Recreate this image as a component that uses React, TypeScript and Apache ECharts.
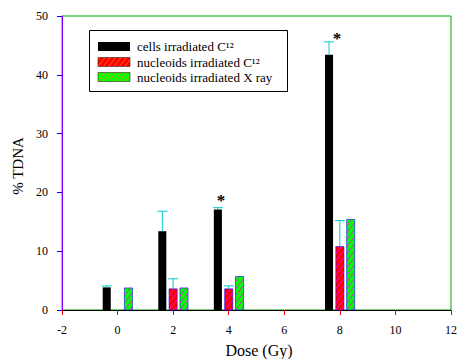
import React, { useEffect, useRef } from "react";
import * as echarts from "echarts";

const doses = [0, 2, 4, 8];
const cellsC12 = [3.85, 13.4, 17.1, 43.4];
const cellsC12Err = [0.25, 3.4, 0.3, 2.2];
const nucleoidsC12: (number | null)[] = [null, 3.6, 3.6, 10.8];
const nucleoidsC12Err: (number | null)[] = [null, 1.7, 0.5, 4.4];
const nucleoidsX = [3.75, 3.75, 5.7, 15.4];
const starPoints: [number, number][] = [
  [3.72, 18.6],
  [7.9, 46.1],
];
const xTicks = { min: -2, max: 12, interval: 2 };
const yTicks = { min: 0, max: 50, interval: 10 };
const legendNames = [
  "cells irradiated C¹²",
  "nucleoids irradiated C¹²",
  "nucleoids irradiated X ray",
];
const xTitle = "Dose (Gy)";
const yTitle = "% TDNA";

const FONT = "Liberation Serif";
const BAR_W = 0.29;
const OFFSET = 0.39;
const CAP_W = 0.36;

function hatchLines(x0: number, x1: number, yTop: number, yBot: number, color: string) {
  const step = 7;
  const k = 1.3;
  const w = x1 - x0;
  const out: any[] = [];
  const start = yBot - Math.floor((yBot - yTop) / step) * step;
  for (let b = start; b < yBot + k * w + step; b += step) {
    const xa = x0 + (b - yBot) / k;
    const xb = x0 + (b - yTop) / k;
    const xs = Math.max(x0, xa);
    const xe = Math.min(x1, xb);
    if (xe > xs + 0.2) {
      out.push({
        type: "line",
        shape: { x1: xs, y1: b - k * (xs - x0), x2: xe, y2: b - k * (xe - x0) },
        style: { stroke: color, lineWidth: 0.8 },
      });
    }
  }
  return out;
}

function barRenderer(offset: number, fill: string, hatch: boolean) {
  return (params: any, api: any) => {
    const x = api.value(0);
    const v = api.value(1);
    const e = api.value(2);
    const top = api.coord([x + offset, v]);
    const base = api.coord([x + offset, 0]);
    const w = api.size([BAR_W, 0])[0];
    const x0 = top[0] - w / 2;
    const x1 = top[0] + w / 2;
    const children: any[] = [
      {
        type: "rect",
        shape: { x: x0, y: top[1], width: w, height: base[1] - top[1] },
        style: hatch ? { fill, stroke: "#0000ff", lineWidth: 0.6 } : { fill },
      },
    ];
    if (hatch) children.push(...hatchLines(x0, x1, top[1], base[1], "#ff00ff"));
    if (e > 0) {
      const et = api.coord([x + offset, v + e]);
      const cw = api.size([CAP_W, 0])[0];
      children.push({
        type: "line",
        shape: { x1: top[0], y1: top[1], x2: top[0], y2: et[1] },
        style: { stroke: "#00cccc", lineWidth: 1 },
      });
      children.push({
        type: "line",
        shape: { x1: top[0] - cw / 2, y1: et[1], x2: top[0] + cw / 2, y2: et[1] },
        style: { stroke: "#00cccc", lineWidth: 1 },
      });
    }
    return { type: "group", children };
  };
}

function buildData(vals: (number | null)[], errs: (number | null)[] | null) {
  const out: any[] = [];
  doses.forEach((d, i) => {
    const v = vals[i];
    if (v == null) return;
    out.push([d, v, errs ? errs[i] ?? 0 : 0]);
  });
  return out;
}

export default function App() {
  const ref = useRef<HTMLDivElement>(null);
  useEffect(() => {
    document.body.style.margin = "0";
    if (!ref.current) return;
    const chart = echarts.init(ref.current, null, { renderer: "svg" });

    const legendX = 98;
    const legendRows = [46.5, 62, 77];
    const legendFills = ["#000000", "#ff0000", "#00ff00"];
    const graphics: any[] = [
      {
        type: "text",
        x: 259,
        y: 350,
        style: { text: xTitle, fontFamily: FONT, fontSize: 16, fill: "#000", align: "center", verticalAlign: "middle" },
      },
      {
        type: "text",
        x: 18,
        y: 166,
        rotation: Math.PI / 2,
        style: { text: yTitle, fontFamily: FONT, fontSize: 15, fill: "#000", align: "center", verticalAlign: "middle" },
      },
      {
        type: "rect",
        shape: { x: 89.5, y: 30.5, width: 198, height: 61 },
        style: { fill: "#fff", stroke: "#000", lineWidth: 1 },
        z: 100,
      },
    ];
    legendRows.forEach((cy, i) => {
      const y0 = cy - 4.5;
      const y1 = cy + 4.5;
      graphics.push({
        type: "rect",
        shape: { x: legendX, y: y0, width: 32, height: 9 },
        style: i === 0 ? { fill: legendFills[i] } : { fill: legendFills[i], stroke: "#222", lineWidth: 0.6 },
        z: 101,
      });
      if (i > 0) {
        hatchLines(legendX, legendX + 32, y0, y1, "#ff8800").forEach((l) => graphics.push({ ...l, z: 102 }));
      }
      graphics.push({
        type: "text",
        x: 137,
        y: cy,
        style: { text: legendNames[i], fontFamily: FONT, fontSize: 13, fill: "#000", verticalAlign: "middle", align: "left" },
        z: 102,
      });
    });

    chart.setOption({
      animation: false,
      grid: { left: 62, right: 6, top: 16, bottom: 49, show: true, borderColor: "#00aa00", borderWidth: 1 },
      xAxis: {
        type: "value",
        min: xTicks.min,
        max: xTicks.max,
        interval: xTicks.interval,
        axisLine: { show: true, onZero: false, lineStyle: { color: "#000", width: 1 } },
        axisTick: { length: 5, lineStyle: { color: "#ff0000" } },
        axisLabel: { margin: 14, fontFamily: FONT, fontSize: 12, color: "#000" },
        splitLine: { show: false },
      },
      yAxis: {
        type: "value",
        min: yTicks.min,
        max: yTicks.max,
        interval: yTicks.interval,
        axisLine: { show: true, onZero: false, lineStyle: { color: "#8800ff", width: 1 } },
        axisTick: { length: 5, lineStyle: { color: "#0000ff" } },
        axisLabel: { margin: 14, fontFamily: FONT, fontSize: 12, color: "#000" },
        splitLine: { show: false },
      },
      graphic: graphics,
      series: [
        { type: "custom", renderItem: barRenderer(-OFFSET, "#000000", false), data: buildData(cellsC12, cellsC12Err) },
        { type: "custom", renderItem: barRenderer(0, "#ff0000", true), data: buildData(nucleoidsC12, nucleoidsC12Err) },
        { type: "custom", renderItem: barRenderer(OFFSET, "#00ff00", true), data: buildData(nucleoidsX, null) },
        {
          type: "custom",
          renderItem: (params: any, api: any) => {
            const p = api.coord([api.value(0), api.value(1)]);
            return {
              type: "text",
              x: p[0],
              y: p[1],
              style: { text: "*", fontFamily: FONT, fontWeight: "bold", fontSize: 17, fill: "#000", align: "center", verticalAlign: "middle" },
            };
          },
          data: starPoints,
        },
      ],
    });
    return () => chart.dispose();
  }, []);
  return <div ref={ref} style={{ width: 460, height: 359 }} />;
}
